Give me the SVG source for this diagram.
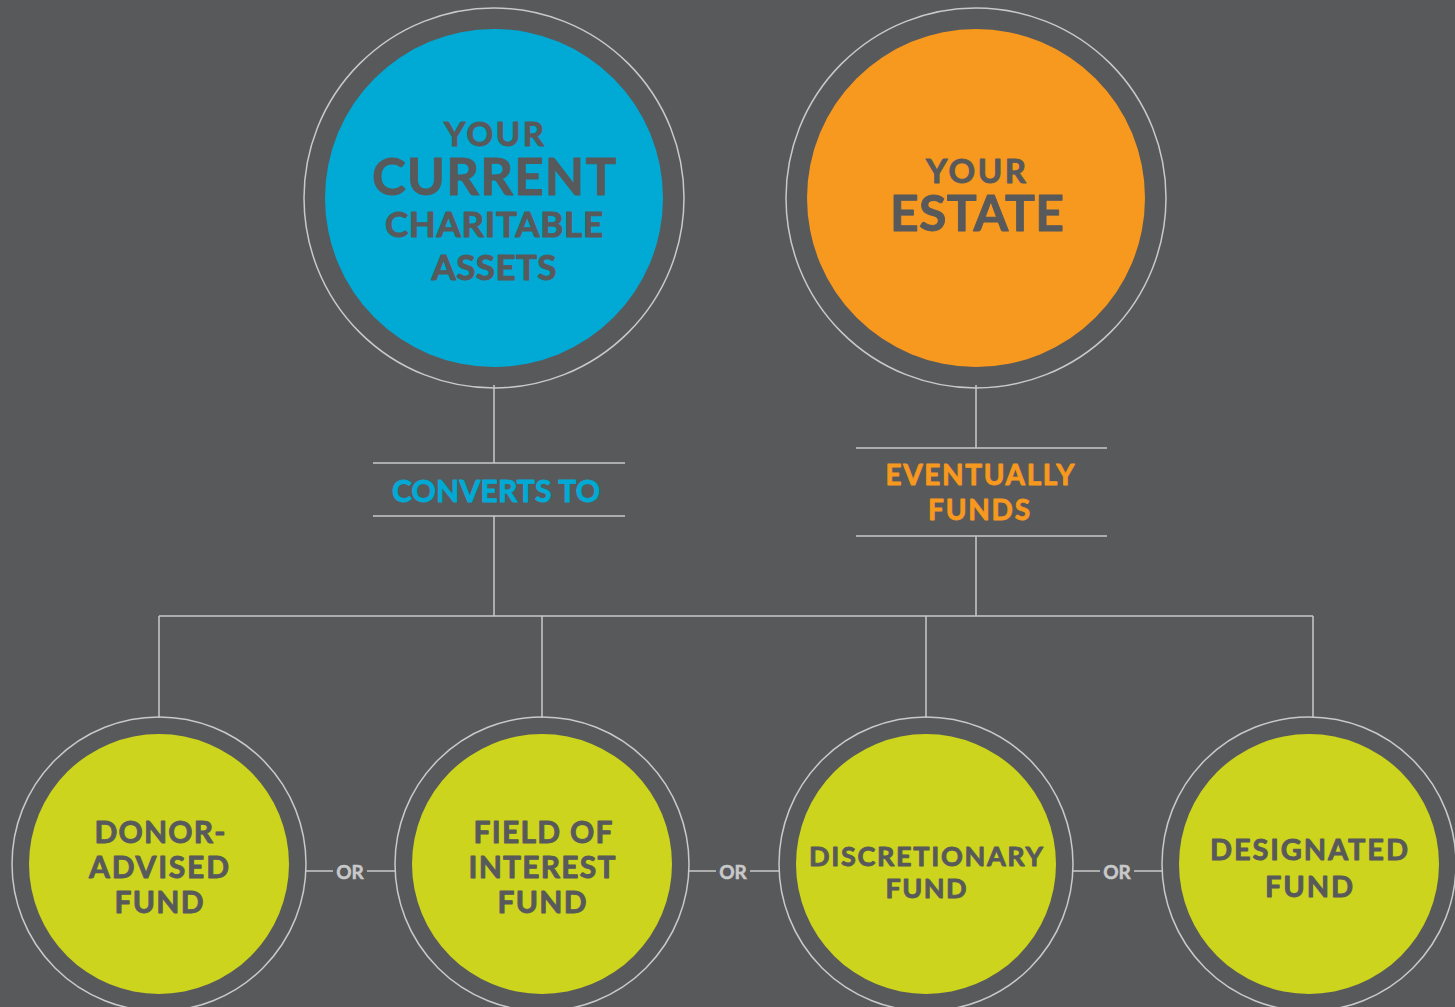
<svg xmlns="http://www.w3.org/2000/svg" width="1455" height="1007" viewBox="0 0 1455 1007">
<style>
.ring{fill:none;stroke:#c9c9ca;stroke-width:1.5}
.ln{stroke:#c9c9ca;stroke-width:1.5;fill:none}
.t{font-family:Lato,"Open Sans","DejaVu Sans",sans-serif;font-weight:700;text-anchor:middle;fill:#58595b;stroke:#58595b;stroke-width:0.9;stroke-linejoin:round}
.or{font-family:Lato,"Open Sans","DejaVu Sans",sans-serif;font-weight:700;text-anchor:middle;fill:#c9c9ca;stroke:#c9c9ca;stroke-width:0.5;font-size:19px}
.cb{fill:#00aad4;stroke:#00aad4}
.co{fill:#f7981f;stroke:#f7981f}
.blue{fill:#00aad4}
.orange{fill:#f7981f}
.lime{fill:#cdd41d}
</style>
<rect width="1455" height="1007" fill="#58595b"/>
<g id="connectors">
<path class="ln" d="M494 385V463M373 463H625M373 516H625M494 516V616"/>
<path class="ln" d="M976 385V448M856 448H1107M856 536H1107M976 536V616"/>
<path class="ln" d="M159 616H1313M159 616V718M542 616V718M926 616V718M1313 616V718"/>
<path class="ln" d="M306 871H333M367 871H396M689 871H716M750 871H779M1073 871H1100M1134 871H1162"/>
</g>
<g id="label-converts">
<text class="t cb" x="496" y="502" font-size="30" textLength="208">CONVERTS TO</text>
</g>
<g id="label-eventually">
<text class="t co" x="980" y="485" font-size="28" textLength="189">EVENTUALLY</text>
<text class="t co" x="979" y="520" font-size="28" textLength="102">FUNDS</text>
</g>
<g id="node-current">
<circle class="ring" cx="494" cy="198" r="190"/>
<circle class="blue" cx="494" cy="198" r="169"/>
<text class="t" x="494" y="146" font-size="33" textLength="100">YOUR</text>
<text class="t" x="494" y="195" font-size="51" textLength="244">CURRENT</text>
<text class="t" x="494" y="237" font-size="35" textLength="218">CHARITABLE</text>
<text class="t" x="494" y="280" font-size="35" textLength="125">ASSETS</text>
</g>
<g id="node-estate">
<circle class="ring" cx="976" cy="198" r="190"/>
<circle class="orange" cx="976" cy="198" r="169"/>
<text class="t" x="976" y="183" font-size="33" textLength="100">YOUR</text>
<text class="t" x="977" y="231" font-size="50" textLength="174">ESTATE</text>
</g>
<g id="node-donor">
<circle class="ring" cx="159" cy="864" r="147"/>
<circle class="lime" cx="159" cy="864" r="130"/>
<text class="t" x="160" y="843" font-size="30" textLength="131">DONOR-</text>
<text class="t" x="159" y="878" font-size="30" textLength="140">ADVISED</text>
<text class="t" x="159" y="913" font-size="30" textLength="89">FUND</text>
</g>
<g id="node-field">
<circle class="ring" cx="542" cy="864" r="147"/>
<circle class="lime" cx="542" cy="864" r="130"/>
<text class="t" x="543" y="843" font-size="30" textLength="139">FIELD OF</text>
<text class="t" x="542" y="878" font-size="30" textLength="147">INTEREST</text>
<text class="t" x="542" y="913" font-size="30" textLength="89">FUND</text>
</g>
<g id="node-discretionary">
<circle class="ring" cx="926" cy="864" r="147"/>
<circle class="lime" cx="926" cy="864" r="130"/>
<text class="t" x="926" y="866" font-size="27" textLength="234">DISCRETIONARY</text>
<text class="t" x="926" y="898" font-size="27" textLength="81">FUND</text>
</g>
<g id="node-designated">
<circle class="ring" cx="1309" cy="864" r="147"/>
<circle class="lime" cx="1309" cy="864" r="130"/>
<text class="t" x="1309" y="860" font-size="29" textLength="198">DESIGNATED</text>
<text class="t" x="1309" y="897" font-size="29" textLength="88">FUND</text>
</g>
<g id="or-labels">
<text class="or" x="350" y="879">OR</text>
<text class="or" x="733" y="879">OR</text>
<text class="or" x="1117" y="879">OR</text>
</g>
</svg>
